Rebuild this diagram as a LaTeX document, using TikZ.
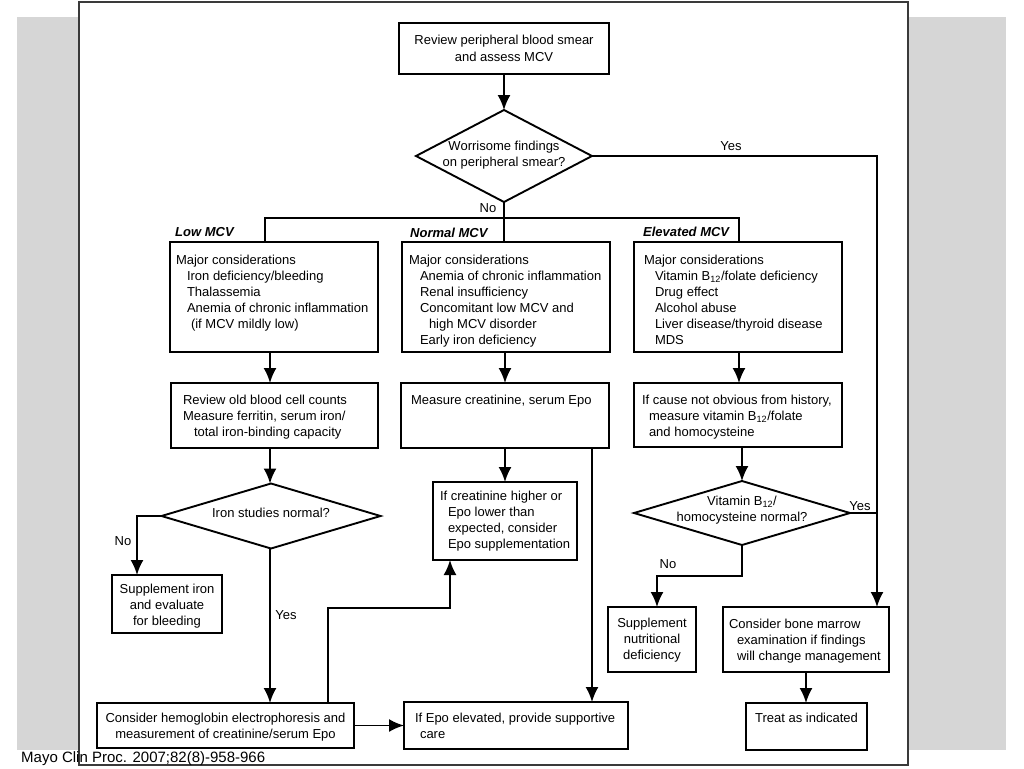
\documentclass[tikz,border=0pt]{standalone}
\usepackage{fontspec}
\setmainfont{Liberation Sans}
\usetikzlibrary{shapes.geometric,arrows.meta,calc}
% box text helpers: width, height, top pad, left pad, text
\newcommand{\bxt}[5]{\parbox[c][#2][t]{#1}{\vspace*{#3}\leftskip=#4\relax\fontsize{13}{16}\selectfont\strut #5\par}}
\newcommand{\bxc}[4]{\parbox[c][#2][t]{#1}{\vspace*{#3}\centering\fontsize{13}{16}\selectfont\strut #4\par}}
\newcommand{\dtext}[2]{\makebox[0pt]{\raisebox{#1}{\smash{\fontsize{13}{16}\selectfont\begin{tabular}{@{}c@{}}#2\end{tabular}}}}}
\newcommand{\ind}[1]{\hspace*{#1}}
\definecolor{bggray}{HTML}{D6D6D6}
\definecolor{framec}{HTML}{3A3A3A}
\tikzset{
  box/.style={draw, line width=1.9pt, inner sep=0pt, outer sep=0pt, anchor=north west},
  dia/.style={diamond, draw, line width=1.9pt, inner sep=0pt, outer sep=0pt},
  conn/.style={line width=1.9pt},
  arr/.style={line width=1.9pt, -{Latex[length=15pt,width=13pt]}},
  hdr/.style={font=\fontsize{13}{16}\selectfont\bfseries\itshape, inner sep=0pt, anchor=base west},
  yn/.style={font=\fontsize{13}{16}\selectfont, inner sep=0pt, anchor=base},
}
\begin{document}
\begin{tikzpicture}[x=1pt,y=-1pt]
\useasboundingbox (0,0) rectangle (1024,768);
\fill[bggray] (17,17) rectangle (1006,750);
\draw[framec, line width=1.5pt, fill=white] (79,2) rectangle (908,765);

% top
\node[box] (b1) at (399,23) {\bxc{210pt}{51pt}{10.8pt}{Review peripheral blood smear\\and assess MCV}};
\node[dia, minimum width=176pt, minimum height=92pt] (d1) at (504,156) {\dtext{-5pt}{Worrisome findings\\on peripheral smear?}};

% first row
\node[box] (low1) at (170,242) {\bxt{208pt}{110pt}{10.8pt}{6pt}{Major considerations\\\ind{11pt}Iron deficiency/bleeding\\\ind{11pt}Thalassemia\\\ind{11pt}Anemia of chronic inflammation\\\ind{15pt}(if MCV mildly low)}};
\node[box] (norm1) at (402,242) {\bxt{208pt}{110pt}{10.8pt}{7pt}{Major considerations\\\ind{11pt}Anemia of chronic inflammation\\\ind{11pt}Renal insufficiency\\\ind{11pt}Concomitant low MCV and\\\ind{20pt}high MCV disorder\\\ind{11pt}Early iron deficiency}};
\node[box] (elev1) at (634,242) {\bxt{208pt}{110pt}{10.8pt}{10pt}{Major considerations\\\ind{11pt}Vitamin B\textsubscript{12}/folate deficiency\\\ind{11pt}Drug effect\\\ind{11pt}Alcohol abuse\\\ind{11pt}Liver disease/thyroid disease\\\ind{11pt}MDS}};

\node[hdr] (hLow) at (175,236) {Low MCV};
\node[hdr] (hNorm) at (410,237) {Normal MCV};
\node[hdr] (hElev) at (643,236) {Elevated MCV};

% second row
\node[box] (low2) at (171,383) {\bxt{207pt}{65pt}{9.8pt}{12pt}{Review old blood cell counts\\Measure ferritin, serum iron/\\\ind{11pt}total iron-binding capacity}};
\node[box] (norm2) at (401,383) {\bxt{208pt}{65pt}{9.8pt}{10pt}{Measure creatinine, serum Epo}};
\node[box] (elev2) at (634,383) {\bxt{208pt}{64pt}{9.8pt}{8pt}{If cause not obvious from history,\\\ind{7pt}measure vitamin B\textsubscript{12}/folate\\\ind{7pt}and homocysteine}};

% lower part
\node[dia, minimum width=219pt, minimum height=65pt] (d2) at (271,516) {\dtext{-3pt}{Iron studies normal?}};
\node[box] (supi) at (112,575) {\bxc{110pt}{58pt}{6.8pt}{Supplement iron\\and evaluate\\for bleeding}};
\node[box] (hemo) at (97,703) {\bxc{257pt}{45pt}{7.8pt}{Consider hemoglobin electrophoresis and\\measurement of creatinine/serum Epo}};
\node[box] (creat) at (433,482) {\bxt{144pt}{78pt}{7.3pt}{7pt}{If creatinine higher or\\\ind{8pt}Epo lower than\\\ind{8pt}expected, consider\\\ind{8pt}Epo supplementation}};
\node[box] (epo) at (404,702) {\bxt{224pt}{47pt}{8.8pt}{11pt}{If Epo elevated, provide supportive\\\ind{5pt}care}};
\node[dia, minimum width=216pt, minimum height=64pt] (d3) at (742,513) {\dtext{-1pt}{Vitamin B\textsubscript{12}/\\homocysteine normal?}};
\node[box] (supn) at (608,607) {\bxc{88pt}{65pt}{8.8pt}{Supplement\\nutritional\\deficiency}};
\node[box] (bm) at (723,607) {\bxt{166pt}{65pt}{9.8pt}{6pt}{Consider bone marrow\\\ind{8pt}examination if findings\\\ind{8pt}will change management}};
\node[box] (treat) at (746,703) {\bxc{121pt}{47pt}{7.8pt}{Treat as indicated}};

% junction coordinates
\coordinate (jL) at (265,218);
\coordinate (jR) at (739,218);
\coordinate (yx) at (877,156);
\coordinate (noi) at (137,516);
\coordinate (hk) at (328,608);
\coordinate (ck) at (450,608);
\coordinate (ex) at (592,448);
\coordinate (vk) at (742,576);
\coordinate (vn) at (657,576);

% connectors
\draw[arr] (b1.south -| d1.north) -- (d1.north);
\draw[conn] (d1.south) -- (d1.south |- norm1.north);
\draw[conn] (jL |- low1.north) -- (jL) -- (jR) -- (jR |- elev1.north);
\draw[arr] (d1.east) -- (yx) -- (yx |- bm.north);

\draw[arr] (low1.south -| 270,0) -- (low2.north -| 270,0);
\draw[arr] (norm1.south -| 505,0) -- (norm2.north -| 505,0);
\draw[arr] (elev1.south -| 739,0) -- (elev2.north -| 739,0);

\draw[arr] (low2.south -| 270,0) -- (d2.north -| 270,0);
\draw[arr] (d2.west) -- (noi) -- (noi |- supi.north);
\draw[arr] (d2.south -| 270,0) -- (hemo.north -| 270,0);
\draw[arr] (hemo.east) -- (hemo.east -| epo.west);
\draw[arr] (hemo.north -| hk) -- (hk) -- (ck) -- (ck |- creat.south);
\draw[arr] (norm2.south -| creat.north) -- (creat.north);
\draw[arr] (ex) -- (ex |- epo.north);

\draw[arr] (elev2.south -| d3.north) -- (d3.north);
\draw[conn] (d3.east) -- (d3.east -| yx);
\draw[arr] (d3.south) -- (vk) -- (vn) -- (vn |- supn.north);
\draw[arr] (bm.south) -- (bm.south |- treat.north);

% yes / no labels
\node[yn] (lyes1) at (731,150) {Yes};
\node[yn] (lno1) at (488,212) {No};
\node[yn] (lno2) at (123,545) {No};
\node[yn] (lyes2) at (286,619) {Yes};
\node[yn] (lyes3) at (860,510) {Yes};
\node[yn] (lno3) at (668,568) {No};

% caption
\node[font=\fontsize{15}{18}\selectfont, inner sep=0pt, anchor=base west] (cap) at (21,762) {Mayo Clin Proc. 2007;82(8)-958-966};
\end{tikzpicture}
\end{document}
